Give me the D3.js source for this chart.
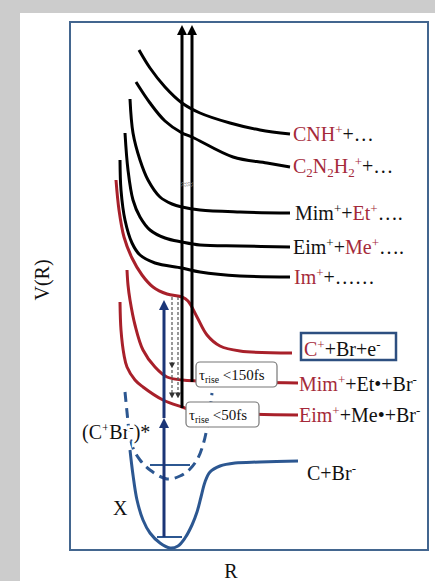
<!DOCTYPE html>
<html>
<head>
<meta charset="utf-8">
<script src="https://cdn.jsdelivr.net/npm/d3@7"></script>
<style>
  body { margin: 0; background: #cccccc; }
  svg { display: block; }
  text { font-family: "Liberation Serif", "Times New Roman", serif; white-space: pre; }
</style>
</head>
<body>
<div id="chart"></div>
<script>
/*global d3*/

// potential curves, points are [R, V] in arbitrary units
// upper (black) ionic / fragment states
const cnhCurve   = [[69,500],[80,482],[95,463],[112,447],[130,437],[160,427],[190,420],[220,416]];
const c2n2Curve  = [[66,468],[80,447],[95,429],[112,417],[122,413],[163,393],[197,387],[220,383]];
const mimEtCurve = [[60,451],[63,417],[70,390],[78,370],[90,353],[102,346],[112,343],[130,340],[170,338],[220,337]];
const eimMeCurve = [[55,417],[58,380],[63,350],[70,333],[80,320],[95,312],[112,308],[130,305],[170,304],[220,303]];
const imCurve    = [[50,390],[51,360],[55,330],[62,307],[70,295],[85,287],[112,282],[130,278],[170,274],[220,273]];

// red dissociation curves
const cBrECurve  = [[46,370],[49,340],[54,313],[62,292],[72,275],[83,263],[97,256],[112,253],[118,249],[127,233],[137,215],[150,204],[170,199],[222,197]];
const mimBrCurve = [[57,280],[58,265],[60,250],[65,225],[73,200],[85,183],[97,173],[112,170],[127,169],[228,167]];
const eimBrCurve = [[50,248],[51,220],[54,195],[57,183],[65,170],[73,163],[93,150],[112,143],[125,139],[228,135]];

// blue ground state X and excited (C+Br-)* state
const groundCurve  = [[60,100],[63,75],[67,50],[73,30],[80,17],[90,7],[100,2],[108,4],[115,12],[122,25],[127,38],[131,53],[135,68],[140,78],[150,84],[165,87],[190,88],[228,89]];
const excitedCurve = [[55,158],[57,138],[59,120],[63,102],[70,90],[80,80],[97,71],[110,74],[120,81],[128,92],[133,105],[137,122],[140,140],[142,157]];
const groundLevel  = [[87,13],[112,13]];
const excitedLevel = [[80,85],[120,85]];

// arrows [R, fromV, toV]
const pumpArrows  = [[94,13,132],[94,132,250]];
const probeArrows = [[112,142,525],[122,168,525]];
const decayArrows = [[102,253,182],[102,180,152],[108,253,152]];

// labels: [text, colour ("r" red / "k" black), "sup" | "sub" | ""]
const cnhLabel   = [["CNH","r"],["+","r","sup"],["+…","k"]];
const c2n2Label  = [["C","r"],["2","r","sub"],["N","r"],["2","r","sub"],["H","r"],["2","r","sub"],["+","r","sup"],["+…","k"]];
const mimEtLabel = [["Mim","k"],["+","k","sup"],["+","k"],["Et","r"],["+","r","sup"],["….","k"]];
const eimMeLabel = [["Eim","k"],["+","k","sup"],["+","k"],["Me","r"],["+","r","sup"],["….","k"]];
const imLabel    = [["Im","r"],["+","r","sup"],["+……","k"]];
const cBrELabel  = [["C","r"],["+","r","sup"],["+Br+e","k"],["-","k","sup"]];
const mimBrLabel = [["Mim","r"],["+","r","sup"],["+Et•+Br","k"],["-","k","sup"]];
const eimBrLabel = [["Eim","r"],["+","r","sup"],["+Me•+Br","k"],["-","k","sup"]];
const groundLabel  = [["C+Br","k"],["-","k","sup"]];
const excitedLabel = [["(C","k"],["+","k","sup"],["Br","k"],["-","k","sup"],[")*","k"]];
const tau150 = [["τ","k"],["rise","k","sub"],[" <150fs","k"]];
const tau50  = [["τ","k"],["rise","k","sub"],[" <50fs","k"]];

const width = 435, height = 581;
const red = "#a8202a", redText = "#a52a3a", navy = "#1b3577", steel = "#2c5791";

const svg = d3.select("#chart")
  .append("svg")
    .attr("width", width)
    .attr("height", height);

// page background
svg.append("rect").attr("width", width).attr("height", height).attr("fill", "#cccccc");
svg.append("rect").attr("x", 20).attr("y", 13).attr("width", width - 20).attr("height", height - 13).attr("fill", "#ffffff");

const x = d3.scaleLinear().domain([0, 358]).range([70, 428]);
const y = d3.scaleLinear().domain([0, 528]).range([550, 22]);

const line = d3.line()
  .x(d => x(d[0]))
  .y(d => y(d[1]))
  .curve(d3.curveCatmullRom.alpha(0.5));

// arrow heads
const defs = svg.append("defs");
function marker(id, color, size) {
  defs.append("marker")
    .attr("id", id)
    .attr("viewBox", "0 0 10 10")
    .attr("refX", 1).attr("refY", 5)
    .attr("markerWidth", size).attr("markerHeight", size)
    .attr("markerUnits", "userSpaceOnUse")
    .attr("orient", "auto")
    .append("path").attr("d", "M0,0 L10,5 L0,10 z").attr("fill", color);
}
marker("blk", "#000", 10);
marker("nav", navy, 10);
marker("gry", "#333", 6);

// frame
svg.append("rect")
  .attr("x", x(0)).attr("y", y(528))
  .attr("width", x(358) - x(0)).attr("height", y(0) - y(528))
  .attr("fill", "none")
  .attr("stroke", "#43668f")
  .attr("stroke-width", 2);

// axis titles
svg.append("text")
  .attr("transform", "translate(49,280) rotate(-90)")
  .attr("text-anchor", "middle")
  .style("font-size", "20px")
  .attr("fill", "#111")
  .text("V(R)");
svg.append("text")
  .attr("x", 231).attr("y", 578)
  .attr("text-anchor", "middle")
  .style("font-size", "20px")
  .attr("fill", "#111")
  .text("R");

const curves = svg.append("g").attr("fill", "none");

// blue states
curves.append("path").attr("d", line(groundCurve)).attr("stroke", steel).attr("stroke-width", 3);
curves.append("path").attr("d", line(excitedCurve)).attr("stroke", steel).attr("stroke-width", 3).attr("stroke-dasharray", "10,6");
[groundLevel, excitedLevel].forEach(l => {
  curves.append("path").attr("d", d3.line().x(d => x(d[0])).y(d => y(d[1]))(l)).attr("stroke", steel).attr("stroke-width", 2);
});

// red and black curves
[cBrECurve, mimBrCurve, eimBrCurve].forEach(c => {
  curves.append("path").attr("d", line(c)).attr("stroke", red).attr("stroke-width", 3);
});
[cnhCurve, c2n2Curve, mimEtCurve, eimMeCurve, imCurve].forEach(c => {
  curves.append("path").attr("d", line(c)).attr("stroke", "#000").attr("stroke-width", 3);
});

// vertical arrows, line stops short so the head carries the tip
function arrow(a, color, w, mk, head, dash) {
  const dir = a[2] > a[1] ? 1 : -1;
  svg.append("line")
    .attr("x1", x(a[0])).attr("x2", x(a[0]))
    .attr("y1", y(a[1])).attr("y2", y(a[2] - dir * head))
    .attr("stroke", color).attr("stroke-width", w)
    .attr("stroke-dasharray", dash)
    .attr("marker-end", "url(#" + mk + ")");
}
probeArrows.forEach(a => arrow(a, "#000", 3, "blk", 9, null));
pumpArrows.forEach(a => arrow(a, navy, 3, "nav", 9, null));
decayArrows.forEach(a => arrow(a, "#555", 1.2, "gry", 5, "3,2"));

// break mark on the probe arrows
svg.append("text")
  .attr("x", x(117)).attr("y", y(362))
  .attr("text-anchor", "middle")
  .style("font-size", "11px")
  .attr("fill", "#888")
  .text("≈≈");

// rich text label with super/subscripts
function label(segs, px, py, size, halo) {
  const t = svg.append("text").attr("x", px).attr("y", py).style("font-size", size + "px");
  if (halo) t.attr("stroke", "#fff").attr("stroke-width", 5).attr("paint-order", "stroke");
  let shift = 0;
  segs.forEach(s => {
    const kind = s[2] || "";
    const target = kind === "sup" ? -size * 0.36 : kind === "sub" ? size * 0.22 : 0;
    t.append("tspan")
      .attr("dy", target - shift)
      .style("font-size", (kind ? size * 0.65 : size) + "px")
      .attr("fill", s[1] === "r" ? redText : "#111")
      .text(s[0]);
    shift = target;
  });
  return t;
}

// labels placed at the curve ends
function endOf(c) { const p = c[c.length - 1]; return [x(p[0]), y(p[1])]; }
let p;
p = endOf(cnhCurve);   label(cnhLabel,   p[0] + 3, p[1] + 7, 20);
p = endOf(c2n2Curve);  label(c2n2Label,  p[0] + 3, p[1] + 6, 20);
p = endOf(mimEtCurve); label(mimEtLabel, p[0] + 5, p[1] + 7, 20);
p = endOf(eimMeCurve); label(eimMeLabel, p[0] + 3, p[1] + 7, 20);
p = endOf(imCurve);    label(imLabel,    p[0] + 4, p[1] + 7, 20);
p = endOf(mimBrCurve); label(mimBrLabel, p[0] + 1, p[1] + 8, 20);
p = endOf(eimBrCurve); label(eimBrLabel, p[0] + 1, p[1] + 7, 20);
p = endOf(groundCurve); label(groundLabel, p[0] + 9, p[1] + 19, 20);

// boxed C+ + Br + e- label
p = endOf(cBrECurve);
svg.append("rect")
  .attr("x", p[0] + 9).attr("y", p[1] - 20)
  .attr("width", 95).attr("height", 27)
  .attr("fill", "#fff")
  .attr("stroke", "#2d4f80").attr("stroke-width", 2.5);
label(cBrELabel, p[0] + 12, p[1] + 3, 20);

// rise time boxes sitting on the red curves
function tauBox(segs, bx, by, bw) {
  svg.append("rect")
    .attr("x", bx).attr("y", by)
    .attr("width", bw).attr("height", 25)
    .attr("rx", 4)
    .attr("fill", "#fff")
    .attr("stroke", "#777").attr("stroke-width", 1.2);
  label(segs, bx + 3, by + 18, 15);
}
tauBox(tau150, x(126), y(188), 81);
tauBox(tau50, x(116), y(148), 73);

// state labels
label(excitedLabel, 82, 439, 20, true);
label([["X","k"]], 113, 515, 20);
</script>
</body>
</html>
